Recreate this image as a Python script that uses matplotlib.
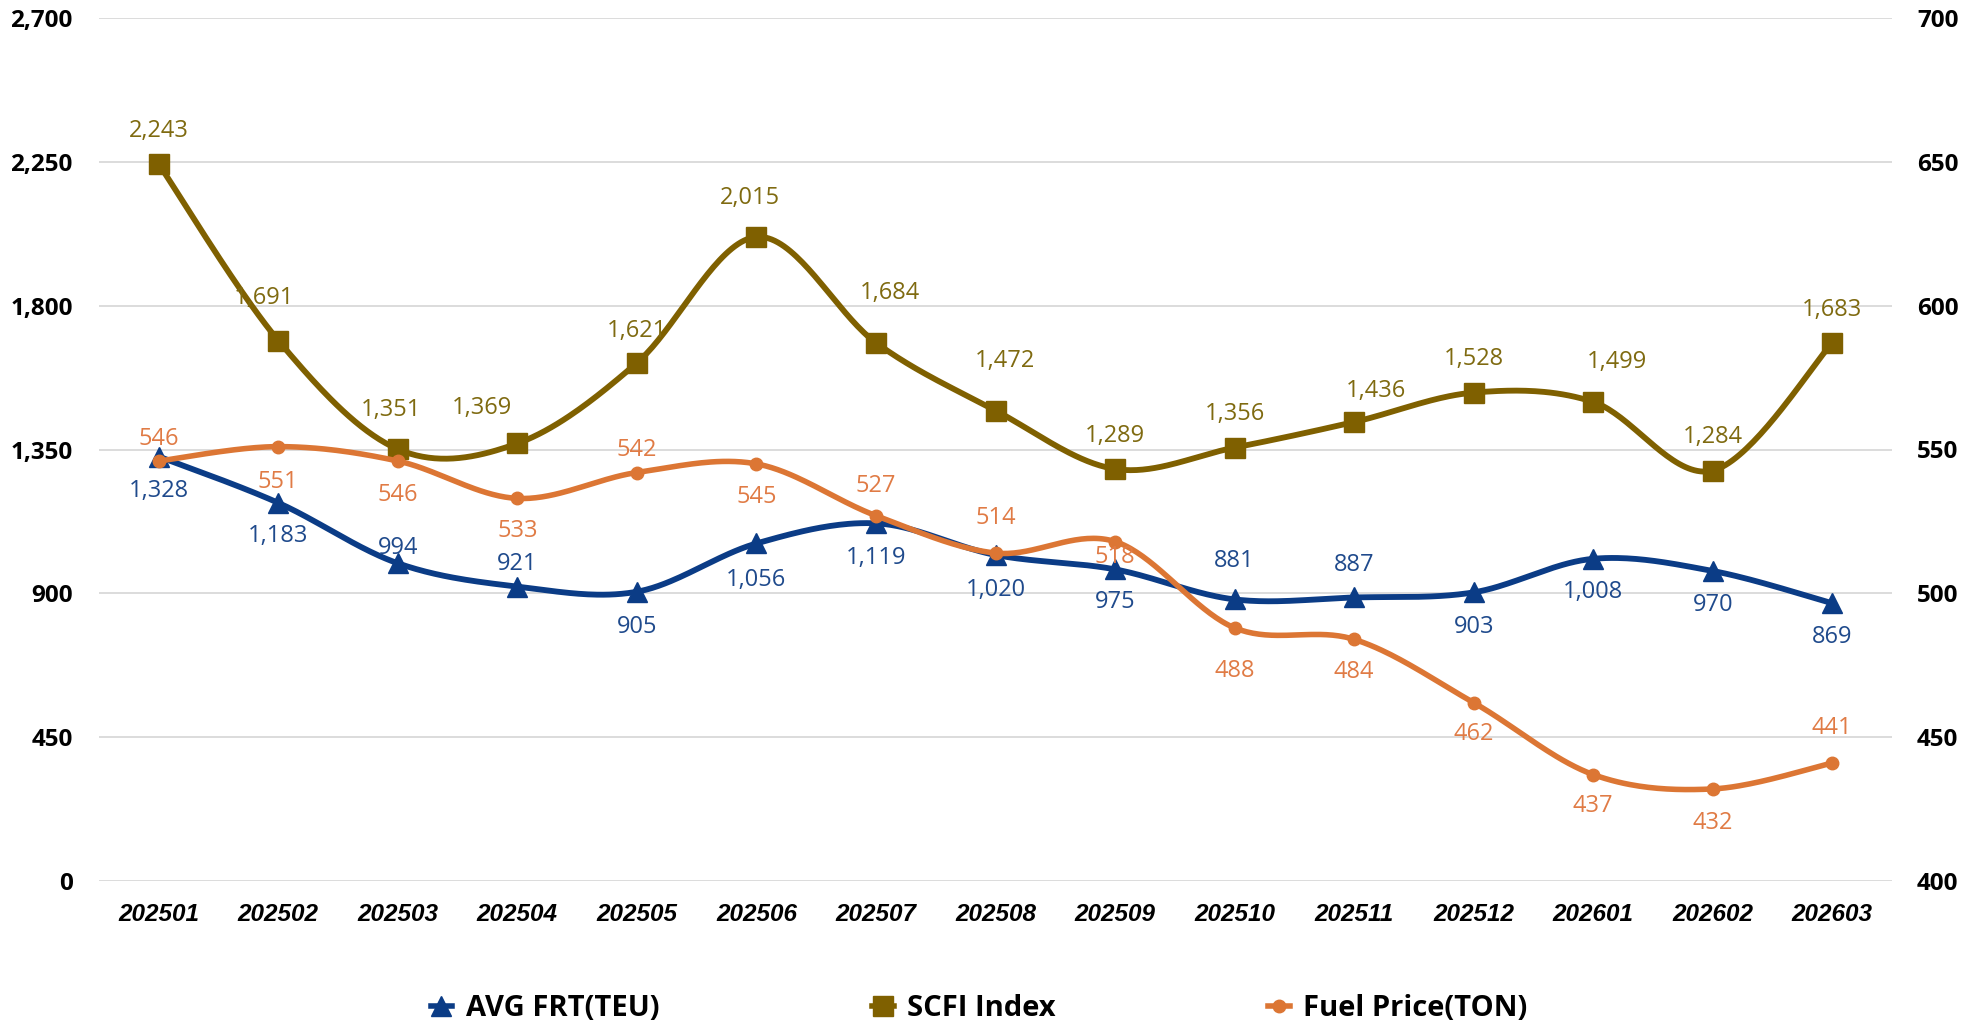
import numpy as np
import matplotlib
matplotlib.use("Agg")
import matplotlib.pyplot as plt
from matplotlib.lines import Line2D
from matplotlib.ticker import FuncFormatter

# ---- data -------------------------------------------------------------
months = ["202501", "202502", "202503", "202504", "202505", "202506", "202507",
          "202508", "202509", "202510", "202511", "202512", "202601", "202602",
          "202603"]
avg_frt = [1328, 1183, 994, 921, 905, 1056, 1119, 1020, 975, 881, 887, 903,
           1008, 970, 869]
scfi = [2243, 1691, 1351, 1369, 1621, 2015, 1684, 1472, 1289, 1356, 1436,
        1528, 1499, 1284, 1683]
fuel = [546, 551, 546, 533, 542, 545, 527, 514, 518, 488, 484, 462, 437,
        432, 441]

left_ticks = [0, 450, 900, 1350, 1800, 2250, 2700]
right_ticks = [400, 450, 500, 550, 600, 650, 700]

# label offsets in pixels (dx right, dy down)
scfi_dx = [0, -14, -7, -35, 0, -6, 14, 9, 0, 0, 22, 0, 24, 0, 0]
scfi_dy = [-33, -43, -39, -35, -32, -39, -50, -50, -33, -34, -31, -34, -40, -34, -33]
frt_dx = [0] * 15
frt_dy = [34, 33, -15, -23, 35, 37, 35, 35, 33, -38, -32, 35, 33, 34, 34]
fuel_dx = [0] * 15
fuel_dy = [-22, 35, 34, 33, -23, 33, -30, -35, 15, 43, 33, 31, 31, 34, -35]

# ---- style ------------------------------------------------------------
C_FRT = "#0B3C86"
C_SCFI = "#7F6000"
C_FUEL = "#DC7634"
C_FRT_T = "#1F4A8C"
C_SCFI_T = "#7F6A10"
C_FUEL_T = "#E07B45"

DPI = 100
PX = 72.0 / DPI  # points per pixel

plt.rcParams["font.family"] = ["Open Sans", "DejaVu Sans"]


def smooth(values, n=40):
    """Catmull-Rom style Bezier smoothing through every point."""
    p = np.column_stack([np.arange(len(values), dtype=float),
                         np.asarray(values, dtype=float)])
    t = np.linspace(0, 1, n)[:, None]
    out = []
    for i in range(len(p) - 1):
        a = p[i - 1] if i > 0 else p[i]
        d = p[i + 2] if i + 2 < len(p) else p[i + 1]
        b0, b3 = p[i], p[i + 1]
        b1 = b0 + (b3 - a) / 6.0
        b2 = b3 - (d - b0) / 6.0
        seg = ((1 - t) ** 3) * b0 + 3 * ((1 - t) ** 2) * t * b1 \
            + 3 * (1 - t) * (t ** 2) * b2 + (t ** 3) * b3
        out.append(seg if i == 0 else seg[1:])
    seg = np.vstack(out)
    return seg[:, 0], seg[:, 1]


fig = plt.figure(figsize=(19.82, 10.24), dpi=DPI)
ax = fig.add_axes([99 / 1982, 1 - 881 / 1024, (1892 - 99) / 1982, (881 - 18) / 1024])
ax2 = ax.twinx()

x = np.arange(len(months))

# left axis series
sx, sy = smooth(avg_frt)
ax.plot(sx, sy, color=C_FRT, lw=4.2, solid_capstyle="round", zorder=3)
ax.plot(x, avg_frt, ls="none", marker="^", ms=15, color=C_FRT, zorder=4)

sx, sy = smooth(scfi)
ax.plot(sx, sy, color=C_SCFI, lw=4.2, solid_capstyle="round", zorder=3)
ax.plot(x, scfi, ls="none", marker="s", ms=14, color=C_SCFI, zorder=4)

# right axis series
sx, sy = smooth(fuel)
ax2.plot(sx, sy, color=C_FUEL, lw=4.0, solid_capstyle="round", zorder=3)
ax2.plot(x, fuel, ls="none", marker="o", ms=9, color=C_FUEL, zorder=4)

# axes
ax.set_xlim(-0.5, len(months) - 0.5)
ax.set_ylim(0, 2700)
ax2.set_ylim(400, 700)
ax.set_yticks(left_ticks)
ax2.set_yticks(right_ticks)
ax.yaxis.set_major_formatter(FuncFormatter(lambda v, _: f"{int(v):,}"))
ax2.yaxis.set_major_formatter(FuncFormatter(lambda v, _: f"{int(v):,}"))
ax.set_xticks(x)
ax.set_xticklabels(months)

ax.grid(axis="y", color="#D9D9D9", lw=1.3, zorder=0)
ax.set_axisbelow(True)
for a in (ax, ax2):
    for s in a.spines.values():
        s.set_visible(False)

ax.tick_params(axis="y", length=0, pad=19, labelsize=17.5)
ax2.tick_params(axis="y", length=0, pad=18, labelsize=17.5)
ax.tick_params(axis="x", length=0, pad=16)
for lab in ax.get_yticklabels() + ax2.get_yticklabels():
    lab.set_fontweight("bold")
    lab.set_color("black")
for lab in ax.get_xticklabels():
    lab.set_fontfamily(["Liberation Sans Narrow", "Liberation Sans", "DejaVu Sans"])
    lab.set_fontweight("bold")
    lab.set_fontstyle("italic")
    lab.set_fontsize(17.5)

# data labels, drawn on the top axes so they sit above every line
def put_labels(values, trans, color, dxs, dys):
    for i, v in enumerate(values):
        ax2.annotate(f"{v:,}", xy=(i, v), xycoords=trans,
                     xytext=(dxs[i] * PX, -dys[i] * PX), textcoords="offset points",
                     ha="center", va="center", fontsize=17, color=color,
                     zorder=10, annotation_clip=False)


put_labels(avg_frt, ax.transData, C_FRT_T, frt_dx, frt_dy)
put_labels(scfi, ax.transData, C_SCFI_T, scfi_dx, scfi_dy)
put_labels(fuel, ax2.transData, C_FUEL_T, fuel_dx, fuel_dy)

# legend
handles = [
    Line2D([], [], color=C_FRT, lw=4, marker="^", ms=15),
    Line2D([], [], color=C_SCFI, lw=4, marker="s", ms=14),
    Line2D([], [], color=C_FUEL, lw=4, marker="o", ms=9),
]
names = ["AVG FRT(TEU)", "SCFI Index", "Fuel Price(TON)"]
fig.legend(handles, names, loc="center", bbox_to_anchor=(0.494, 1 - 1009 / 1024),
           ncol=3, frameon=False, handlelength=0.75, handletextpad=0.45,
           columnspacing=7.3, borderaxespad=0,
           prop={"family": ["Open Sans", "DejaVu Sans"], "weight": "bold", "size": 21})

fig.savefig("out.png", dpi=DPI)
